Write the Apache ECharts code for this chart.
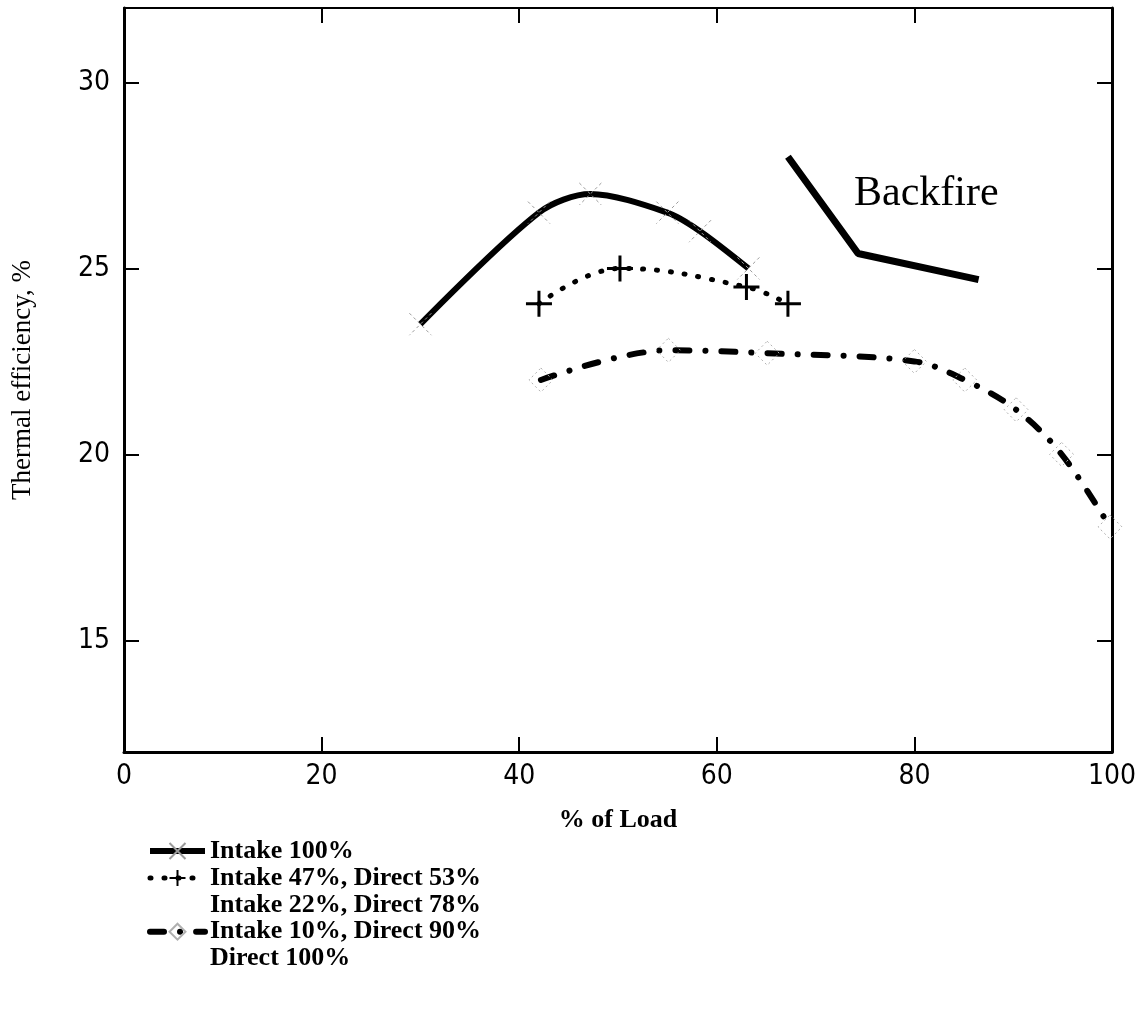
<!DOCTYPE html>
<html><head><meta charset="utf-8">
<script src="https://cdn.jsdelivr.net/npm/echarts@6/dist/echarts.min.js"></script>
<style>html,body{margin:0;padding:0;background:#fff}#c{width:1143px;height:1018px}</style>
</head><body><div id="c"></div>
<script>
// ---- data ----
const seriesNames = ['Intake 100%', 'Intake 47%, Direct 53%', 'Intake 22%, Direct 78%', 'Intake 10%, Direct 90%', 'Direct 100%'];
const intake100X = [30, 42, 47.2, 55, 58.3, 63.2];
const intake100Y = [23.5, 26.5, 27.0, 26.5, 26.0, 25.0];
const intake47X = [42, 50.2, 63, 67.2];
const intake47Y = [24.05, 25.0, 24.5, 24.05];
const intake22X = [];
const intake22Y = [];
const intake10X = [42.2, 55.1, 65.1, 80, 85.1, 90.3, 94.9, 99.8];
const intake10Y = [22.0, 22.8, 22.72, 22.5, 22.0, 21.2, 20.0, 18.05];
const direct100X = [];
const direct100Y = [];
const backfireX = [67.2, 74.3, 86.5];
const backfireY = [28.0, 25.4, 24.7];
const xTickValues = [0, 20, 40, 60, 80, 100];
const yTickValues = [15, 20, 25, 30];
const annotationText = 'Backfire';

const pairs = (xs, ys) => xs.map((x, i) => [x, ys[i]]);

const numFont = "'Liberation Sans Narrow', 'DejaVu Sans Condensed', 'Liberation Sans', sans-serif";
const serif = "'Liberation Serif', 'DejaVu Serif', serif";

const XSYM = 'path://M0,0L10,10M10,0L0,10';
const PSYM = 'path://M5,0L5,10M0,5L10,5';

const chart = echarts.init(document.getElementById('c'), null, {renderer: 'canvas'});

const baseX = {
  type: 'value', min: 0, max: 100, interval: 20,
  axisLine: {show: true, onZero: false, lineStyle: {color: '#000', width: 3}},
  axisTick: {show: true, inside: true, length: 15, lineStyle: {color: '#000', width: 2}},
  splitLine: {show: false}
};
const baseY = {
  type: 'value', min: 12, max: 32,
  axisLine: {show: true, onZero: false, lineStyle: {color: '#000', width: 3}},
  axisTick: {show: true, inside: true, length: 15, customValues: yTickValues, lineStyle: {color: '#000', width: 2}},
  splitLine: {show: false}
};

const lineStyles = [
  {color: '#000', width: 6},
  {color: '#000', width: 5, type: [1, 13], cap: 'round'},
  {color: '#fff', width: 0, opacity: 0},
  {color: '#000', width: 6, type: [14, 16, 0.1, 16], cap: 'round'},
  {color: '#fff', width: 0, opacity: 0}
];

const option = {
  backgroundColor: '#fff',
  animation: false,
  grid: {left: 124, right: 31, top: 8, bottom: 266, outerBoundsMode: 'none'},
  xAxis: [
    Object.assign({}, baseX, {
      position: 'bottom',
      name: '% of Load', nameLocation: 'middle', nameGap: 55,
      nameTextStyle: {fontFamily: serif, fontSize: 26, fontWeight: 'bold', color: '#000'},
      axisLabel: {show: true, fontFamily: numFont, fontSize: 28, color: '#000', margin: 11,
        customValues: xTickValues}
    }),
    Object.assign({}, baseX, {position: 'top', axisLabel: {show: false},
      axisLine: {show: true, onZero: false, lineStyle: {color: '#000', width: 2}}})
  ],
  yAxis: [
    Object.assign({}, baseY, {
      position: 'left',
      name: 'Thermal efficiency, %', nameLocation: 'middle', nameGap: 88, nameRotate: 90,
      nameTextStyle: {fontFamily: serif, fontSize: 27, color: '#000'},
      axisLabel: {show: true, fontFamily: numFont, fontSize: 28, color: '#000', margin: 14,
        customValues: yTickValues}
    }),
    Object.assign({}, baseY, {position: 'right', axisLabel: {show: false}})
  ],
  legend: {
    orient: 'vertical', left: 147, top: 838, padding: 0,
    itemWidth: 55, itemHeight: 20, itemGap: 0.9,
    data: seriesNames.map((n, i) => ({name: n, lineStyle: lineStyles[i]})),
    textStyle: {fontFamily: serif, fontSize: 26, fontWeight: 'bold', color: '#000'},
    inactiveColor: '#000', selectedMode: false
  },
  graphic: [{
    type: 'text', left: 854, top: 173,
    style: {text: annotationText, font: "42px " + serif, fill: '#000'}
  }],
  series: [
    {
      name: seriesNames[0], type: 'line', data: pairs(intake100X, intake100Y), smooth: 0.3,
      lineStyle: lineStyles[0],
      symbol: XSYM, symbolSize: 22,
      itemStyle: {color: 'rgba(0,0,0,0)', borderColor: '#9a9a9a', borderWidth: 1, borderType: [3, 3]},
      z: 3
    },
    {
      name: seriesNames[1], type: 'line', data: pairs(intake47X, intake47Y), smooth: 0.4,
      lineStyle: lineStyles[1],
      symbol: PSYM, symbolSize: 26,
      itemStyle: {color: 'rgba(0,0,0,0)', borderColor: '#000', borderWidth: 3},
      z: 3
    },
    {
      name: seriesNames[2], type: 'line', data: pairs(intake22X, intake22Y),
      lineStyle: lineStyles[2],
      symbol: 'none', itemStyle: {color: '#fff', opacity: 0}
    },
    {
      name: seriesNames[3], type: 'line', data: pairs(intake10X, intake10Y), smooth: 0.35,
      lineStyle: lineStyles[3],
      symbol: 'diamond', symbolSize: 24,
      itemStyle: {color: 'rgba(0,0,0,0)', borderColor: '#b0b0b0', borderWidth: 1, borderType: [2, 3]},
      z: 3
    },
    {
      name: seriesNames[4], type: 'line', data: pairs(direct100X, direct100Y),
      lineStyle: lineStyles[4],
      symbol: 'none', itemStyle: {color: '#fff', opacity: 0}
    },
    {
      name: 'Backfire', type: 'line', data: pairs(backfireX, backfireY),
      lineStyle: {color: '#000', width: 7}, symbol: 'none', z: 3
    }
  ]
};
chart.setOption(option);
</script>
</body></html>
